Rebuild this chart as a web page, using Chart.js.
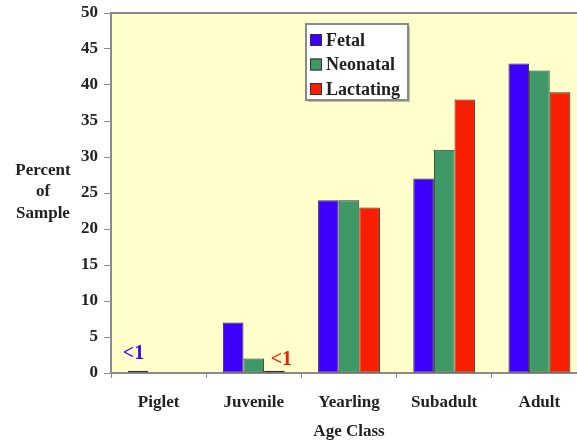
<!DOCTYPE html>
<html lang="en">
<head>
    <meta charset="UTF-8">
    <title>Age Class</title>
    <script src="https://cdn.jsdelivr.net/npm/chart.js"></script>
    <style>
        html, body {
            margin: 0;
            padding: 0;
            background: #fff;
            overflow: hidden;
        }
        #wrap {
            width: 587px;
            height: 442px;
        }
    </style>
</head>
<body>
    <div id="wrap">
        <canvas id="chart"></canvas>
    </div>

    <script>
        // data
        const categories = ['Piglet', 'Juvenile', 'Yearling', 'Subadult', 'Adult'];
        const fetal = [0.3, 7, 24, 27, 43];
        const neonatal = [0, 2, 24, 31, 42];
        const lactating = [0, 0.3, 23, 38, 39];
        const seriesNames = ['Fetal', 'Neonatal', 'Lactating'];
        const yTicks = [0, 5, 10, 15, 20, 25, 30, 35, 40, 45, 50];
        const yTitleLines = ['Percent', 'of', 'Sample'];
        // "<1" notes: which series / category they sit on
        const noteText = ['<1', '<1'];
        const noteSeries = [0, 2];
        const noteCategory = [0, 1];

        const colors = ['#3d00ff', '#3f9967', '#f81e00'];
        const serif = '"Times New Roman", "Liberation Serif", serif';
        const axisGrey = '#8a8a8a';
        const textColor = '#222';

        // plot background, top border, legend, y title and the notes
        const decor = {
            id: 'decor',
            beforeDraw(chart) {
                const { ctx, chartArea: a } = chart;
                ctx.save();
                ctx.fillStyle = '#ffffcc';
                ctx.fillRect(a.left, a.top, a.right - a.left, a.bottom - a.top);
                ctx.strokeStyle = axisGrey;
                ctx.lineWidth = 2;
                ctx.beginPath();
                ctx.moveTo(a.left, a.top);
                ctx.lineTo(a.right, a.top);
                ctx.stroke();
                ctx.restore();
            },
            afterDraw(chart) {
                const { ctx, chartArea: a } = chart;
                ctx.save();

                // y axis title, horizontal, three lines
                ctx.fillStyle = textColor;
                ctx.font = 'bold 17px ' + serif;
                ctx.textAlign = 'center';
                ctx.textBaseline = 'middle';
                const midY = (a.top + a.bottom) / 2;
                yTitleLines.forEach((t, i) => {
                    ctx.fillText(t, 43, midY + (i - 1) * 21.5 - 1);
                });

                // legend box
                const lx = 306, ly = a.top + 11, lw = 102, lh = 76;
                ctx.fillStyle = 'rgba(0,0,0,0.25)';
                ctx.fillRect(lx + 2, ly + 2, lw, lh);
                ctx.fillStyle = '#fff';
                ctx.fillRect(lx, ly, lw, lh);
                ctx.strokeStyle = axisGrey;
                ctx.lineWidth = 2;
                ctx.strokeRect(lx, ly, lw, lh);
                ctx.font = 'bold 18px ' + serif;
                ctx.textAlign = 'left';
                chart.data.datasets.forEach((ds, i) => {
                    const cy = ly + 16 + i * 24.5;
                    ctx.fillStyle = ds.backgroundColor;
                    ctx.fillRect(lx + 4, cy - 6, 12, 12);
                    ctx.strokeStyle = '#333';
                    ctx.lineWidth = 1;
                    ctx.strokeRect(lx + 4.5, cy - 5.5, 11, 11);
                    ctx.fillStyle = textColor;
                    ctx.fillText(ds.label, lx + 20, cy + 1);
                });

                // "<1" notes next to the tiny bars
                ctx.font = 'bold 20px ' + serif;
                ctx.textBaseline = 'alphabetic';
                ctx.textAlign = 'center';
                noteText.forEach((t, i) => {
                    const bar = chart.getDatasetMeta(noteSeries[i]).data[noteCategory[i]];
                    ctx.fillStyle = colors[noteSeries[i]];
                    if (noteSeries[i] === 0) {
                        ctx.fillText(t, bar.x - 4.5, bar.y - 12);
                    } else {
                        ctx.fillText(t, bar.x + 7, bar.y - 6);
                    }
                });
                ctx.restore();
            }
        };

        const ctx = document.getElementById('chart').getContext('2d');
        new Chart(ctx, {
            type: 'bar',
            data: {
                labels: categories,
                datasets: [fetal, neonatal, lactating].map((d, i) => ({
                    label: seriesNames[i],
                    data: d,
                    backgroundColor: colors[i],
                    borderColor: '#333',
                    borderWidth: 1,
                    borderSkipped: false,
                    categoryPercentage: 0.65,
                    barPercentage: 1
                }))
            },
            options: {
                responsive: true,
                maintainAspectRatio: false,
                animation: false,
                layout: { padding: { top: 13, right: 0, bottom: 0, left: 0 } },
                plugins: {
                    legend: { display: false },
                    tooltip: { enabled: false }
                },
                scales: {
                    x: {
                        grid: {
                            drawOnChartArea: false,
                            drawTicks: true,
                            tickLength: 5,
                            color: axisGrey
                        },
                        border: { color: axisGrey, width: 2 },
                        ticks: {
                            color: textColor,
                            padding: 14,
                            font: { family: serif, size: 17, weight: 'bold' }
                        },
                        title: {
                            display: true,
                            text: 'Age Class',
                            color: textColor,
                            padding: { top: 0, bottom: 0 },
                            font: { family: serif, size: 17, weight: 'bold' }
                        },
                        afterFit(scale) { scale.height = 69; }
                    },
                    y: {
                        min: 0,
                        max: 50,
                        afterBuildTicks(scale) {
                            scale.ticks = yTicks.map(v => ({ value: v }));
                        },
                        grid: {
                            drawOnChartArea: false,
                            drawTicks: true,
                            tickLength: 7,
                            color: axisGrey
                        },
                        border: { color: axisGrey, width: 2 },
                        ticks: {
                            color: textColor,
                            padding: 6,
                            font: { family: serif, size: 17, weight: 'bold' }
                        },
                        afterFit(scale) {
                            scale.width = 111;
                            scale.paddingTop = 0;
                            scale.paddingBottom = 0;
                        }
                    }
                }
            },
            plugins: [decor]
        });
    </script>
</body>
</html>
